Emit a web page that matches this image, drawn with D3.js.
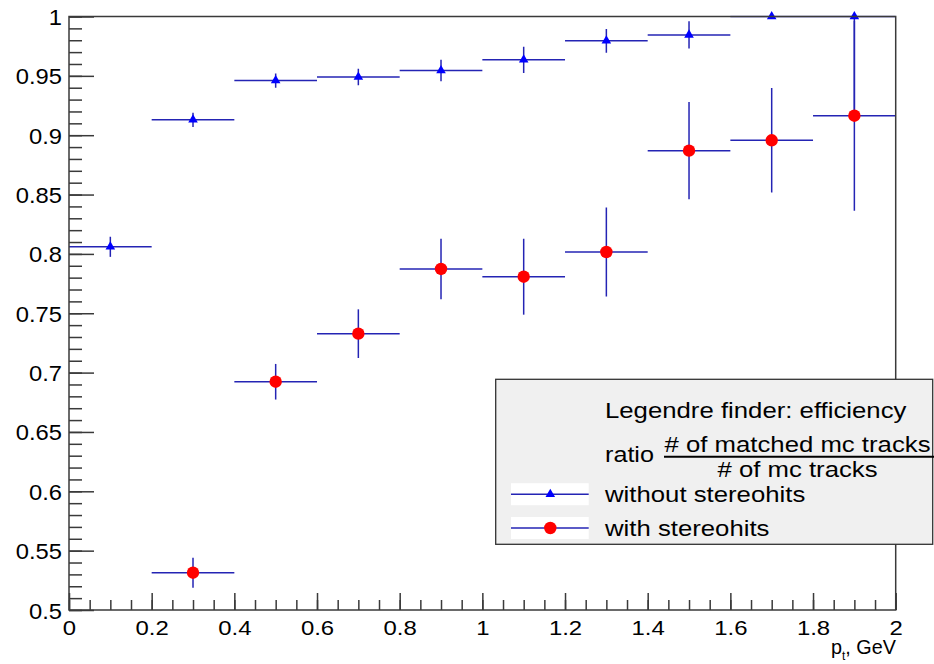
<!DOCTYPE html>
<html>
<head>
<meta charset="utf-8">
<script src="https://cdn.jsdelivr.net/npm/d3@7"></script>
<style>
  html, body { margin: 0; padding: 0; background: #ffffff; }
  svg { display: block; }
  text { font-family: "Liberation Sans", Arial, Helvetica, sans-serif; fill: #000; }
</style>
</head>
<body>
<svg id="chart" width="934" height="664"></svg>
<script>
// Bin centres in p_t (GeV) and half bin width
const ptCenters = [0.1, 0.3, 0.5, 0.7, 0.9, 1.1, 1.3, 1.5, 1.7, 1.9];
const ptHalfWidth = 0.1;

// Efficiency without stereohits (asymmetric errors)
const effWithout        = [0.806, 0.913, 0.946, 0.949, 0.9545, 0.9635, 0.9795, 0.9845, 1.0, 1.0];
const effWithoutErrLow  = [0.0085, 0.006, 0.006, 0.007, 0.009, 0.011, 0.010, 0.0115, 0.0, 0.080];
const effWithoutErrHigh = [0.0085, 0.006, 0.006, 0.007, 0.009, 0.011, 0.010, 0.0115, 0.0, 0.0];

// Efficiency with stereohits (first bin lies outside the shown range)
const effWith    = [null, 0.5314, 0.6923, 0.7328, 0.7873, 0.7808, 0.8016, 0.887, 0.8957, 0.9164];
const effWithErr = [null, 0.0126, 0.015, 0.0205, 0.0255, 0.032, 0.0375, 0.041, 0.044, 0.080];

// Axis ticks and labels
const yMajorTicks  = [0.5, 0.55, 0.6, 0.65, 0.7, 0.75, 0.8, 0.85, 0.9, 0.95, 1.0];
const yTickLabels  = ["0.5", "0.55", "0.6", "0.65", "0.7", "0.75", "0.8", "0.85", "0.9", "0.95", "1"];
const xMajorTicks  = [0, 0.2, 0.4, 0.6, 0.8, 1.0, 1.2, 1.4, 1.6, 1.8, 2.0];
const xTickLabels  = ["0", "0.2", "0.4", "0.6", "0.8", "1", "1.2", "1.4", "1.6", "1.8", "2"];
const yMinorTicks  = d3.range(0, 51).map(i => 0.5 + i * 0.01);
const xMinorTicks  = d3.range(0, 41).map(i => i * 0.05);

const svg = d3.select("#chart");
const W = 934, H = 664;
svg.append("rect").attr("width", W).attr("height", H).attr("fill", "#ffffff");

const frame = { left: 69, right: 895.7, top: 16.5, bottom: 610 };
const x = d3.scaleLinear().domain([0, 2]).range([frame.left, frame.right]);
const y = d3.scaleLinear().domain([0.5, 1]).range([frame.bottom, frame.top]);

const errColor = "#2424b4";
const axisColor = "#3a3a3a";

// Data layer, clipped to the frame
svg.append("clipPath").attr("id", "frameClip")
  .append("rect")
  .attr("x", frame.left).attr("y", frame.top - 1)
  .attr("width", frame.right - frame.left).attr("height", frame.bottom - frame.top + 1);

const plot = svg.append("g").attr("clip-path", "url(#frameClip)");

function drawSeries(values, errLow, errHigh) {
  const g = plot.append("g");
  ptCenters.forEach((c, i) => {
    const v = values[i];
    if (v === null) return;
    g.append("line")
      .attr("x1", x(c - ptHalfWidth)).attr("x2", x(c + ptHalfWidth))
      .attr("y1", y(v)).attr("y2", y(v))
      .attr("stroke", errColor).attr("stroke-width", 1.5);
    if (errLow[i] > 0 || errHigh[i] > 0) {
      g.append("line")
        .attr("x1", x(c)).attr("x2", x(c))
        .attr("y1", y(v - errLow[i])).attr("y2", y(v + errHigh[i]))
        .attr("stroke", errColor).attr("stroke-width", 1.5);
    }
  });
  return g;
}

drawSeries(effWithout, effWithoutErrLow, effWithoutErrHigh);
drawSeries(effWith, effWithErr, effWithErr);

// Markers (drawn unclipped so the ones sitting on y = 1 stay whole)
const markers = svg.append("g");
const tri = d3.symbol().type(d3.symbolTriangle).size(40);
ptCenters.forEach((c, i) => {
  markers.append("path")
    .attr("d", tri())
    .attr("transform", `translate(${x(c)},${y(effWithout[i])})`)
    .attr("fill", "#0000ff");
});
ptCenters.forEach((c, i) => {
  if (effWith[i] === null) return;
  markers.append("circle")
    .attr("cx", x(c)).attr("cy", y(effWith[i])).attr("r", 6.2)
    .attr("fill", "#ff0000");
});

// Frame
svg.append("rect")
  .attr("x", frame.left).attr("y", frame.top)
  .attr("width", frame.right - frame.left).attr("height", frame.bottom - frame.top)
  .attr("fill", "none").attr("stroke", axisColor).attr("stroke-width", 1.5);

// Y axis: inward ticks, minor every 0.01, major every 0.05
const yMinor = svg.append("g").attr("transform", `translate(${frame.left},0)`)
  .call(d3.axisLeft(y).tickValues(yMinorTicks).tickSize(-13).tickFormat(""));
const yMajor = svg.append("g").attr("transform", `translate(${frame.left},0)`)
  .call(d3.axisLeft(y).tickValues(yMajorTicks).tickSize(-25).tickPadding(7)
    .tickFormat((d, i) => yTickLabels[i]));

// X axis: upward ticks, minor every 0.05, major every 0.2
const xMinor = svg.append("g").attr("transform", `translate(0,${frame.bottom})`)
  .call(d3.axisBottom(x).tickValues(xMinorTicks).tickSize(-10).tickFormat(""));
const xMajor = svg.append("g").attr("transform", `translate(0,${frame.bottom})`)
  .call(d3.axisBottom(x).tickValues(xMajorTicks).tickSize(-17)
    .tickFormat((d, i) => xTickLabels[i]));

[yMinor, yMajor, xMinor, xMajor].forEach(g => {
  g.select(".domain").remove();
  g.selectAll(".tick line").attr("stroke", axisColor).attr("stroke-width", 1.5);
});

yMajor.selectAll(".tick text")
  .attr("x", null).attr("dy", null)
  .attr("text-anchor", "end")
  .attr("font-size", 22)
  .attr("font-family", "Liberation Sans, Arial, sans-serif")
  .attr("fill", "#000")
  .attr("transform", "translate(-7,8) scale(1.08,1)");

xMajor.selectAll(".tick text")
  .attr("y", null).attr("dy", null)
  .attr("text-anchor", "middle")
  .attr("font-size", 21)
  .attr("font-family", "Liberation Sans, Arial, sans-serif")
  .attr("fill", "#000")
  .attr("transform", "translate(0,25) scale(1.14,1)");

// X axis title: p_t, GeV, kept clear of the last-but-one tick label
const xTitle = svg.append("g").attr("transform", "translate(831,654) scale(0.99,1)")
  .append("text").attr("font-size", 20);
xTitle.append("tspan").text("p");
xTitle.append("tspan").attr("dy", 6).attr("font-size", 12).text("t");
xTitle.append("tspan").attr("dy", -6).text(",");
xTitle.append("tspan").attr("dx", 5.6).text("GeV");

// Legend
const leg = svg.append("g");
leg.append("rect")
  .attr("x", 495.7).attr("y", 379.3).attr("width", 437).attr("height", 165)
  .attr("fill", "#f0f0f0").attr("stroke", "#333").attr("stroke-width", 1.3);

function legText(tx, ty, str, anchor, k) {
  leg.append("g").attr("transform", `translate(${tx},${ty}) scale(${k},1)`)
    .append("text").attr("text-anchor", anchor || "start").attr("font-size", 22).text(str);
}

legText(605, 417.7, "Legendre finder: efficiency", "start", 1.17);
legText(605, 461.7, "ratio", "start", 1.145);
legText(797.5, 451.7, "# of matched mc tracks", "middle", 1.17);
leg.append("line").attr("x1", 664).attr("x2", 934).attr("y1", 456.7).attr("y2", 456.7)
  .attr("stroke", "#000").attr("stroke-width", 2);
legText(797.5, 477.3, "# of mc tracks", "middle", 1.17);

const entries = [
  { label: "without stereohits", cy: 494.2, marker: "triangle" },
  { label: "with stereohits", cy: 528, marker: "circle" }
];
entries.forEach(e => {
  leg.append("rect").attr("x", 511).attr("y", e.cy - 11).attr("width", 77.7).attr("height", 22)
    .attr("fill", "#ffffff");
  leg.append("line").attr("x1", 511).attr("x2", 588.7).attr("y1", e.cy).attr("y2", e.cy)
    .attr("stroke", errColor).attr("stroke-width", 1.5);
  if (e.marker === "triangle") {
    leg.append("path").attr("d", tri()).attr("transform", `translate(550.3,${e.cy})`).attr("fill", "#0000ff");
  } else {
    leg.append("circle").attr("cx", 550.3).attr("cy", e.cy).attr("r", 6.2).attr("fill", "#ff0000");
  }
  legText(605, e.cy + 7.5, e.label, "start", 1.17);
});
</script>
</body>
</html>
